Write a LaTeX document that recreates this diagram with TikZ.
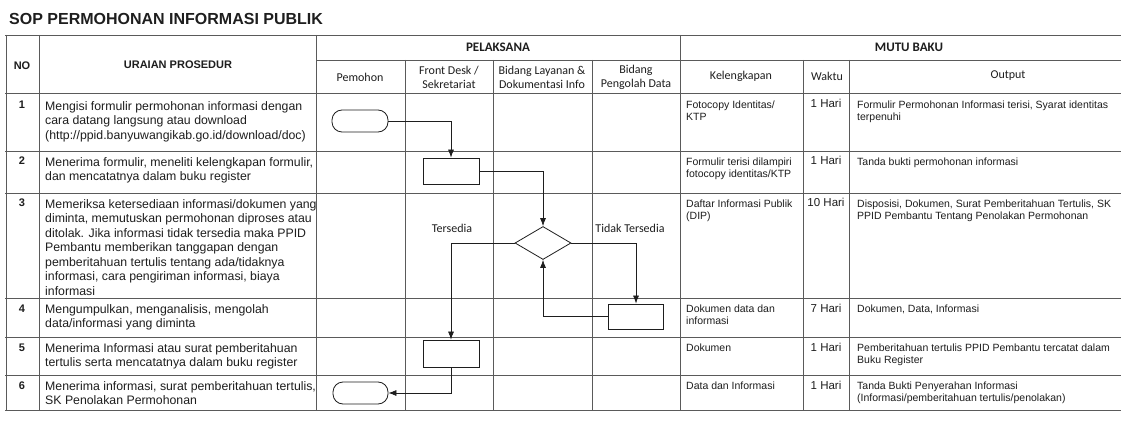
\documentclass[tikz,border=0pt]{standalone}
\usepackage{fontspec}
\setmainfont{Liberation Sans}
\newfontfamily\cbfont{Carlito}
\usetikzlibrary{shapes.geometric,arrows.meta}
\definecolor{gridgray}{HTML}{5A5A5A}
\definecolor{inkgray}{HTML}{1E1E1E}

\begin{document}
\begin{tikzpicture}[x=1pt,y=-1pt,
 grid line/.style={draw=gridgray,line width=0.8pt},
 term node/.style={draw=inkgray,line width=0.8pt,rounded corners=10pt,
   minimum width=56pt,minimum height=22pt,inner sep=0pt},
 proc node/.style={draw=inkgray,line width=0.8pt,
   minimum width=56pt,minimum height=26pt,inner sep=0pt},
 dec node/.style={draw=inkgray,line width=0.8pt,diamond,
   minimum width=56pt,minimum height=33pt,inner sep=0pt},
 flow line/.style={draw=inkgray,line width=0.7pt,-{Latex[length=8pt,width=6pt]}},
 uraian text/.style={anchor=north west,inner sep=0pt,align=left,text=inkgray,
   font=\fontsize{12.3}{14.5}\selectfont},
 mutu text/.style={anchor=north west,inner sep=0pt,align=left,text=inkgray,
   font=\fontsize{10.5}{12.5}\selectfont},
 waktu text/.style={anchor=base,inner sep=0pt,text=inkgray,
   font=\fontsize{11.5}{13}\selectfont},
 no text/.style={anchor=base,inner sep=0pt,text=inkgray,
   font=\fontsize{11}{13}\selectfont\bfseries},
 lane head/.style={align=center,inner sep=0pt,text=inkgray,
   font=\cbfont\fontsize{12}{14}\selectfont},
 group head/.style={inner sep=0pt,text=inkgray,
   font=\cbfont\bfseries\fontsize{13}{15}\selectfont}]

  \useasboundingbox (0,0) rectangle (1121,422);
  \fill[white] (0,0) rectangle (1121,422);

  % title
  \node[anchor=base west,inner sep=0pt,text=inkgray,
    font=\fontsize{16}{18}\selectfont\bfseries] (title) at (9,25)
    {SOP PERMOHONAN INFORMASI PUBLIK};

  % table rules
  \foreach \y in {35,93,151,193,298,337,375,410}
   \draw[grid line] (5,\y) -- (1121,\y);
  \draw[grid line] (316,60) -- (1121,60);
  \foreach \x in {6,39,316,680}
   \draw[grid line] (\x,35) -- (\x,410);
  \foreach \x in {405,493,592,803,849}
   \draw[grid line] (\x,60) -- (\x,410);

  % header
  \node[inner sep=0pt,text=inkgray,font=\fontsize{11}{13}\selectfont\bfseries]
    (nohead) at (22,66) {NO};
  \node[inner sep=0pt,text=inkgray,font=\fontsize{11}{13}\selectfont\bfseries]
    (uraianhead) at (178,65) {URAIAN PROSEDUR};
  \node[group head] (pelaksana) at (498,47) {PELAKSANA};
  \node[group head] (mutubaku) at (909,47) {MUTU BAKU};
  \node[lane head] (pemohon) at (360,77) {Pemohon};
  \node[lane head] (frontdesk) at (449,77) {Front Desk /\\Sekretariat};
  \node[lane head] (layanan) at (542,77) {Bidang Layanan \&\\Dokumentasi Info};
  \node[lane head] (pengolah) at (636,77) {Bidang\\Pengolah Data};
  \node[lane head] (kelengkapan) at (741,76) {Kelengkapan};
  \node[lane head] (waktu) at (827,76) {Waktu};
  \node[lane head] (output) at (1008,76) {Output};

  % row numbers
  \node[no text] (n1) at (22,109) {1};
  \node[no text] (n2) at (22,165) {2};
  \node[no text] (n3) at (22,207) {3};
  \node[no text] (n4) at (22,312) {4};
  \node[no text] (n5) at (22,351) {5};
  \node[no text] (n6) at (22,389) {6};

  % uraian prosedur
  \node[uraian text] (u1) at (45,101) {Mengisi formulir permohonan informasi dengan\\cara datang langsung atau download\\(http://ppid.banyuwangikab.go.id/download/doc)};
  \node[uraian text] (u2) at (45,157) {Menerima formulir, meneliti kelengkapan formulir,\\dan mencatatnya dalam buku register};
  \node[uraian text] (u3) at (45,199) {Memeriksa ketersediaan informasi/dokumen yang\\diminta, memutuskan permohonan diproses atau\\ditolak. Jika informasi tidak tersedia maka PPID\\Pembantu memberikan tanggapan dengan\\pemberitahuan tertulis tentang ada/tidaknya\\informasi, cara pengiriman informasi, biaya\\informasi};
  \node[uraian text] (u4) at (45,304) {Mengumpulkan, menganalisis, mengolah\\data/informasi yang diminta};
  \node[uraian text] (u5) at (45,343) {Menerima Informasi atau surat pemberitahuan\\tertulis serta mencatatnya dalam buku register};
  \node[uraian text] (u6) at (45,381) {Menerima informasi, surat pemberitahuan tertulis,\\SK Penolakan Permohonan};

  % mutu baku
  \node[mutu text] (k1) at (686,100.5) {Fotocopy Identitas/\\KTP};
  \node[mutu text] (k2) at (686,157.5) {Formulir terisi dilampiri\\fotocopy identitas/KTP};
  \node[mutu text] (k3) at (686,199.5) {Daftar Informasi Publik\\(DIP)};
  \node[mutu text] (k4) at (686,304.5) {Dokumen data dan\\informasi};
  \node[mutu text] (k5) at (686,343.5) {Dokumen};
  \node[mutu text] (k6) at (686,381.5) {Data dan Informasi};

  \node[waktu text] (w1) at (826,108) {1 Hari};
  \node[waktu text] (w2) at (826,165) {1 Hari};
  \node[waktu text] (w3) at (826,207) {10 Hari};
  \node[waktu text] (w4) at (826,312) {7 Hari};
  \node[waktu text] (w5) at (826,351) {1 Hari};
  \node[waktu text] (w6) at (826,389) {1 Hari};

  \node[mutu text] (o1) at (857,100.5) {Formulir Permohonan Informasi terisi, Syarat identitas\\terpenuhi};
  \node[mutu text] (o2) at (857,157.5) {Tanda bukti permohonan informasi};
  \node[mutu text] (o3) at (857,199.5) {Disposisi, Dokumen, Surat Pemberitahuan Tertulis, SK\\PPID Pembantu Tentang Penolakan Permohonan};
  \node[mutu text] (o4) at (857,304.5) {Dokumen, Data, Informasi};
  \node[mutu text] (o5) at (857,343.5) {Pemberitahuan tertulis PPID Pembantu tercatat dalam\\Buku Register};
  \node[mutu text] (o6) at (857,381.5) {Tanda Bukti Penyerahan Informasi\\(Informasi/pemberitahuan tertulis/penolakan)};

  % flow
  \node[term node] (t1) at (360,121) {};
  \node[proc node] (p2) at (451,171) {};
  \node[dec node] (d3) at (543,243) {};
  \node[proc node,minimum width=55pt,minimum height=25pt] (p4) at (636,316.5) {};
  \node[proc node,minimum height=27pt] (p5) at (451,353.5) {};
  \node[term node,minimum width=55pt] (t6) at (360.5,393) {};

  \node[lane head] (tersedia) at (452,228) {Tersedia};
  \node[lane head] (tidak) at (630,228) {Tidak Tersedia};

  \draw[flow line] (t1) -| (p2);
  \draw[flow line] (p2) -| (d3);
  \draw[flow line] (d3) -| (p5);
  \draw[flow line] (d3) -| (p4);
  \draw[flow line] (p4) -| (d3);
  \draw[flow line] (p5) |- (t6);
\end{tikzpicture}
\end{document}
